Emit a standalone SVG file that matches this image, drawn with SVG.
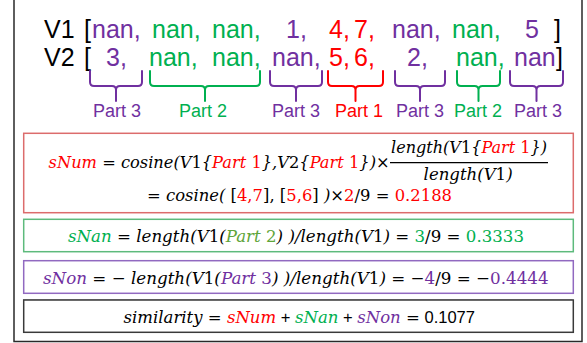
<svg xmlns="http://www.w3.org/2000/svg" width="587" height="343" viewBox="0 0 587 343">
<style>
.v{font-family:"Liberation Sans","Arimo",Arial,sans-serif;font-size:25px;}
.lb{font-family:"Liberation Sans",Arial,sans-serif;font-size:18px;text-anchor:middle;}
.m{font-family:"DejaVu Serif",serif;font-style:italic;font-size:16.5px;fill:#000;}
.up{font-style:normal;}
.ss{font-family:"Liberation Sans",Arial,sans-serif;font-style:normal;}
.r{fill:#ff0000;} .g{fill:#00b050;} .p{fill:#7030a0;} .k{fill:#000;} .o{fill:#5fa53a;}
.br{fill:none;stroke-width:2;stroke-linecap:round;stroke-linejoin:round;}
.box{fill:#fff;stroke-width:1.5;}
</style>
<rect width="587" height="343" fill="#fff"/>
<path d="M14,0 V341.5 H582 V0" fill="none" stroke="#2a2a2a" stroke-width="1.5"/>

<g id="vectors" class="v">
  <text x="44" y="38" class="k">V1</text>
  <text x="84" y="38" class="k">[</text>
  <text x="92" y="38" class="p">nan,</text>
  <text x="152" y="38" class="g">nan,</text>
  <text x="212" y="38" class="g">nan,</text>
  <text x="286" y="38" class="p">1,</text>
  <text x="329" y="38" class="r">4,</text>
  <text x="354" y="38" class="r">7,</text>
  <text x="392" y="38" class="p">nan,</text>
  <text x="452" y="38" class="g">nan,</text>
  <text x="525" y="38" class="p">5</text>
  <text x="554" y="38" class="k">]</text>

  <text x="44" y="66" class="k">V2</text>
  <text x="84" y="66" class="k">[</text>
  <text x="106" y="66" class="p">3,</text>
  <text x="149" y="66" class="g">nan,</text>
  <text x="212" y="66" class="g">nan,</text>
  <text x="272" y="66" class="p">nan,</text>
  <text x="329" y="66" class="r">5,</text>
  <text x="354" y="66" class="r">6,</text>
  <text x="407" y="66" class="p">2,</text>
  <text x="456" y="66" class="g">nan,</text>
  <text x="514" y="66" class="p">nan</text>
  <text x="556" y="66" class="k">]</text>
</g>

<g id="braces">
  <path class="br" stroke="#7030a0" d="M90,71 V82 Q90,86 94,86 H112 Q116,86 116,90 V101 M116,90 Q116,86 120,86 H138 Q142,86 142,82 V71"/>
  <path class="br" stroke="#00b050" d="M150,71 V82 Q150,86 154,86 H201 Q205,86 205,90 V101 M205,90 Q205,86 209,86 H256 Q260,86 260,82 V71"/>
  <path class="br" stroke="#7030a0" d="M270,71 V82 Q270,86 274,86 H292 Q296,86 296,90 V101 M296,90 Q296,86 300,86 H318 Q322,86 322,82 V71"/>
  <path class="br" stroke="#ff0000" d="M328,71 V82 Q328,86 332,86 H351.5 Q355.5,86 355.5,90 V101 M355.5,90 Q355.5,86 359.5,86 H379 Q383,86 383,82 V71"/>
  <path class="br" stroke="#7030a0" d="M395,71 V82 Q395,86 399,86 H416 Q420,86 420,90 V101 M420,90 Q420,86 424,86 H441 Q445,86 445,82 V71"/>
  <path class="br" stroke="#00b050" d="M457,71 V82 Q457,86 461,86 H474.5 Q478.5,86 478.5,90 V101 M478.5,90 Q478.5,86 482.5,86 H496 Q500,86 500,82 V71"/>
  <path class="br" stroke="#7030a0" d="M510,71 V82 Q510,86 514,86 H532.5 Q536.5,86 536.5,90 V101 M536.5,90 Q536.5,86 540.5,86 H559 Q563,86 563,82 V71"/>
</g>

<g id="part-labels" class="lb">
  <text x="117" y="117" class="p">Part 3</text>
  <text x="203" y="117" class="g">Part 2</text>
  <text x="296" y="117" class="p">Part 3</text>
  <text x="359" y="117" class="r">Part 1</text>
  <text x="420" y="117" class="p">Part 3</text>
  <text x="478" y="117" class="g">Part 2</text>
  <text x="538" y="117" class="p">Part 3</text>
</g>

<g id="sNum-box">
  <rect class="box" x="23.7" y="133.3" width="549.6" height="79.4" stroke="#dc6c6c"/>
  <text class="m" x="48.6" y="168" textLength="341" lengthAdjust="spacingAndGlyphs"><tspan class="r">sNum</tspan> = cosine(V<tspan class="up">1</tspan>{<tspan class="r">Part <tspan class="up">1</tspan></tspan>},V<tspan class="up">2</tspan>{<tspan class="r">Part <tspan class="up">1</tspan></tspan>})<tspan class="up">×</tspan></text>
  <text class="m" x="391" y="153" textLength="156" lengthAdjust="spacingAndGlyphs">length(V<tspan class="up">1</tspan>{<tspan class="r">Part <tspan class="up">1</tspan></tspan>})</text>
  <line x1="390" y1="162.7" x2="548" y2="162.7" stroke="#000" stroke-width="1.3"/>
  <text class="m" x="423.6" y="180" textLength="89" lengthAdjust="spacingAndGlyphs">length(V<tspan class="up">1</tspan>)</text>
  <text class="m" x="147" y="201" textLength="305" lengthAdjust="spacingAndGlyphs"><tspan class="up">=</tspan> cosine( <tspan class="up">[</tspan><tspan class="r up">4,7</tspan><tspan class="up">],</tspan> <tspan class="up">[</tspan><tspan class="r up">5,6</tspan><tspan class="up">]</tspan> )<tspan class="up">×</tspan><tspan class="r up">2</tspan><tspan class="up">/9 = </tspan><tspan class="r up">0.2188</tspan></text>
</g>

<g id="sNan-box">
  <rect class="box" x="23.7" y="219.3" width="549.6" height="32.4" stroke="#5dba7c"/>
  <text class="m" x="68" y="242" textLength="456" lengthAdjust="spacingAndGlyphs"><tspan class="g">sNan</tspan> = length(V<tspan class="up">1</tspan>(<tspan class="o">Part <tspan class="up">2</tspan></tspan>) )/length(V<tspan class="up">1</tspan>) <tspan class="up">= </tspan><tspan class="g up">3</tspan><tspan class="up">/9 = </tspan><tspan class="g up">0.3333</tspan></text>
</g>

<g id="sNon-box">
  <rect class="box" x="23.7" y="260.7" width="549.6" height="32.6" stroke="#9169c0"/>
  <text class="m" x="43" y="283.5" textLength="505.6" lengthAdjust="spacingAndGlyphs"><tspan class="p">sNon</tspan> = − length(V<tspan class="up">1</tspan>(<tspan class="p">Part <tspan class="up">3</tspan></tspan>) )/length(V<tspan class="up">1</tspan>) <tspan class="up">= −</tspan><tspan class="p up">4</tspan><tspan class="up">/9 = −</tspan><tspan class="p up">0.4444</tspan></text>
</g>

<g id="similarity-box">
  <rect x="23" y="299.3" width="549.6" height="32.3" fill="#9a9a9a"/>
  <rect class="box" x="23.7" y="300" width="549.6" height="32.3" stroke="#3a3a3a"/>
  <text class="m" x="123.6" y="322.5" textLength="351.4" lengthAdjust="spacingAndGlyphs">similarity = <tspan class="r">sNum</tspan><tspan class="ss"> + </tspan><tspan class="g">sNan</tspan><tspan class="ss"> + </tspan><tspan class="p">sNon</tspan> <tspan class="up"> =</tspan><tspan class="ss"> 0.1077</tspan></text>
</g>
</svg>
